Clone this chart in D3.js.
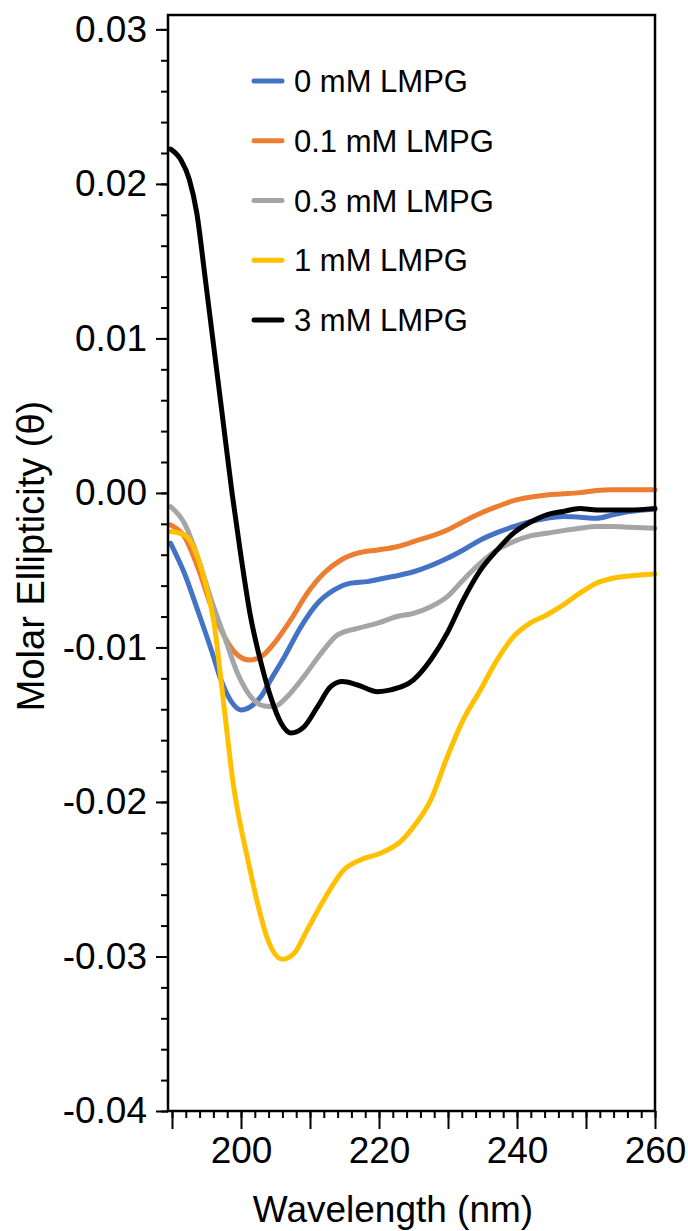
<!DOCTYPE html>
<html>
<head>
<meta charset="utf-8">
<script src="https://cdn.jsdelivr.net/npm/d3@7"></script>
<style>
  html, body { margin: 0; padding: 0; background: #fff; }
  svg { display: block; font-family: "Liberation Sans", Arial, sans-serif; }
</style>
</head>
<body>
<svg id="chart" width="688" height="1231"></svg>
<script>
// CD spectra of the peptide in increasing LMPG concentrations
const seriesNames = ["0 mM LMPG", "0.1 mM LMPG", "0.3 mM LMPG", "1 mM LMPG", "3 mM LMPG"];
const seriesColors = ["#4472C4", "#ED7D31", "#A5A5A5", "#FFC000", "#000000"];

const wl0 = [189.8, 191.8, 193.7, 195.7, 197.1, 198.6, 200.0, 201.4, 202.9, 204.3, 206.3, 208.7, 211.1, 213.5, 215.9, 218.3, 220.7, 223.1, 225.0, 229.9, 232.2, 234.7, 237.1, 239.5, 241.9, 244.3, 246.7, 249.1, 251.5, 253.9, 256.3, 260];
const theta0 = [-0.00326, -0.0052, -0.00757, -0.01016, -0.0121, -0.01351, -0.01405, -0.01383, -0.01318, -0.0121, -0.0106, -0.00865, -0.00714, -0.00628, -0.00584, -0.00574, -0.00552, -0.00531, -0.0051, -0.00423, -0.00369, -0.00304, -0.00257, -0.00218, -0.00186, -0.00164, -0.00153, -0.00157, -0.00164, -0.00142, -0.00121, -0.00106];

const wl01 = [189.8, 191.8, 193.7, 195.7, 197.6, 199.5, 201.2, 202.9, 204.8, 207.2, 209.6, 212.0, 214.5, 216.9, 219.8, 222.6, 225.0, 229.9, 232.2, 234.7, 237.1, 239.5, 241.9, 244.3, 246.7, 249.1, 251.5, 253.9, 260];
const theta01 = [-0.00207, -0.00283, -0.00477, -0.00736, -0.0093, -0.01049, -0.01081, -0.0106, -0.00973, -0.00822, -0.00649, -0.0052, -0.00434, -0.0039, -0.00369, -0.00348, -0.00315, -0.0024, -0.00186, -0.00131, -0.00089, -0.0005, -0.00028, -0.00013, -0.00006, 0.00002, 0.00015, 0.0002, 0.0002];

const wl03 = [189.8, 191.8, 193.7, 195.7, 197.6, 199.5, 201.4, 203.4, 204.8, 206.7, 209.1, 211.6, 214.0, 216.9, 219.8, 222.6, 225.0, 227.5, 229.9, 232.2, 234.7, 237.1, 239.5, 241.9, 244.3, 246.7, 249.1, 251.5, 253.9, 256.3, 260];
const theta03 = [-0.00089, -0.00196, -0.00412, -0.00693, -0.0093, -0.01167, -0.01318, -0.01379, -0.01383, -0.01318, -0.01189, -0.01038, -0.00919, -0.00876, -0.00843, -0.008, -0.00779, -0.00736, -0.00671, -0.00563, -0.00455, -0.00369, -0.00315, -0.00278, -0.00261, -0.00244, -0.00229, -0.00218, -0.00218, -0.00222, -0.00229];

const wl1 = [189.8, 191.8, 193.3, 194.7, 196.1, 197.1, 198.1, 198.8, 199.5, 201.0, 202.4, 203.9, 206.0, 207.7, 209.6, 212.0, 214.9, 217.3, 220.2, 223.1, 225.0, 227.5, 229.9, 232.2, 234.7, 237.1, 239.5, 241.9, 244.3, 246.7, 249.1, 251.5, 253.9, 256.3, 260];
const theta1 = [-0.0025, -0.00272, -0.00369, -0.00563, -0.00843, -0.0121, -0.016, -0.0186, -0.02052, -0.02375, -0.02656, -0.02893, -0.03018, -0.02979, -0.02828, -0.02634, -0.0244, -0.02375, -0.02332, -0.02257, -0.0216, -0.01987, -0.01707, -0.01469, -0.01275, -0.01081, -0.0093, -0.00843, -0.0079, -0.00725, -0.00649, -0.00584, -0.00552, -0.00537, -0.00524];

const wl3 = [189.8, 191.3, 192.5, 193.6, 194.7, 195.9, 197.3, 198.7, 199.9, 201.3, 202.9, 204.3, 205.8, 207.2, 209.1, 211.1, 213.0, 214.7, 216.9, 219.8, 221.7, 225.0, 227.5, 229.9, 232.2, 234.7, 237.1, 239.5, 241.9, 244.4, 246.7, 249.1, 251.6, 253.9, 256.3, 260];
const theta3 = [0.02225, 0.02155, 0.0203, 0.0181, 0.0143, 0.0100, 0.0050, 0.0, -0.0038, -0.0078, -0.011, -0.0132, -0.01489, -0.01553, -0.01515, -0.01383, -0.01254, -0.01221, -0.01243, -0.01286, -0.01275, -0.0121, -0.0108, -0.00906, -0.00693, -0.005, -0.0037, -0.0026, -0.0019, -0.0014, -0.0012, -0.001, -0.0011, -0.0011, -0.0011, -0.001];

const xMajorTicks = [190, 200, 210, 220, 230, 240, 250, 260];
const xTickLabels = [200, 220, 240, 260];
const yTickValues = [0.03, 0.02, 0.01, 0, -0.01, -0.02, -0.03, -0.04];
const yTickLabels = ["0.03", "0.02", "0.01", "0.00", "-0.01", "-0.02", "-0.03", "-0.04"];

const wavelengths = [wl0, wl01, wl03, wl1, wl3];
const thetas = [theta0, theta01, theta03, theta1, theta3];

const svg = d3.select("#chart");
const plot = { left: 168, right: 655, top: 15, bottom: 1111 };

const x = d3.scaleLinear().domain([189.42, 260]).range([plot.left, plot.right]);
const y = d3.scaleLinear().domain([-0.04, 0.03093]).range([plot.bottom, plot.top]);

// spectra
const line = d3.line()
  .x(d => x(d[0]))
  .y(d => y(d[1]))
  .curve(d3.curveMonotoneX);

const traces = svg.append("g");
seriesNames.forEach((name, i) => {
  const pts = wavelengths[i].map((w, j) => [w, thetas[i][j]]);
  traces.append("path")
    .datum(pts)
    .attr("d", line)
    .attr("fill", "none")
    .attr("stroke", seriesColors[i])
    .attr("stroke-width", 5)
    .attr("stroke-linejoin", "round")
    .attr("stroke-linecap", "round");
});

// frame
svg.append("rect")
  .attr("x", plot.left).attr("y", plot.top)
  .attr("width", plot.right - plot.left).attr("height", plot.bottom - plot.top)
  .attr("fill", "none").attr("stroke", "#000").attr("stroke-width", 2.5);

// y axis: major ticks labelled, minor ticks every 0.002
const yAxisMinor = d3.axisLeft(y).tickValues(d3.range(-0.04, 0.0301, 0.002)).tickSize(7).tickFormat("");
const yAxisMajor = d3.axisLeft(y).tickValues(yTickValues).tickSize(12).tickPadding(9)
  .tickFormat((d, i) => yTickLabels[i]);
[yAxisMinor, yAxisMajor].forEach(ax => {
  const g = svg.append("g").attr("transform", `translate(${plot.left},0)`).call(ax);
  g.select(".domain").remove();
  g.selectAll(".tick line").attr("stroke", "#000").attr("stroke-width", 2);
  g.selectAll(".tick text").attr("font-size", 37).attr("fill", "#000")
    .attr("font-family", "'Liberation Sans', Arial, sans-serif");
});

// x axis: long ticks every 10 nm, short every 2 nm, labels every 20 nm
const xAxisMinor = d3.axisBottom(x).tickValues(d3.range(190, 260.1, 2)).tickSize(7).tickFormat("");
const xAxisMajor = d3.axisBottom(x).tickValues(xMajorTicks).tickSize(18).tickPadding(8)
  .tickFormat(d => xTickLabels.includes(d) ? String(d) : "");
[xAxisMinor, xAxisMajor].forEach(ax => {
  const g = svg.append("g").attr("transform", `translate(0,${plot.bottom})`).call(ax);
  g.select(".domain").remove();
  g.selectAll(".tick line").attr("stroke", "#000").attr("stroke-width", 2);
  g.selectAll(".tick text").attr("font-size", 37).attr("fill", "#000")
    .attr("font-family", "'Liberation Sans', Arial, sans-serif");
});

// axis titles
svg.append("text")
  .attr("x", 393).attr("y", 1222)
  .attr("text-anchor", "middle")
  .attr("font-size", 37)
  .text("Wavelength (nm)");

svg.append("text")
  .attr("transform", "translate(44,556) rotate(-90)")
  .attr("text-anchor", "middle")
  .attr("font-size", 38)
  .text("Molar Ellipticity (θ)");

// legend
const legend = svg.append("g");
seriesNames.forEach((name, i) => {
  const ly = 81 + i * 59.75;
  legend.append("line")
    .attr("x1", 254).attr("x2", 282).attr("y1", ly).attr("y2", ly)
    .attr("stroke", seriesColors[i]).attr("stroke-width", 5).attr("stroke-linecap", "round");
  legend.append("text")
    .attr("x", 294).attr("y", ly).attr("dy", "0.36em")
    .attr("font-size", 31)
    .text(name);
});
</script>
</body>
</html>
